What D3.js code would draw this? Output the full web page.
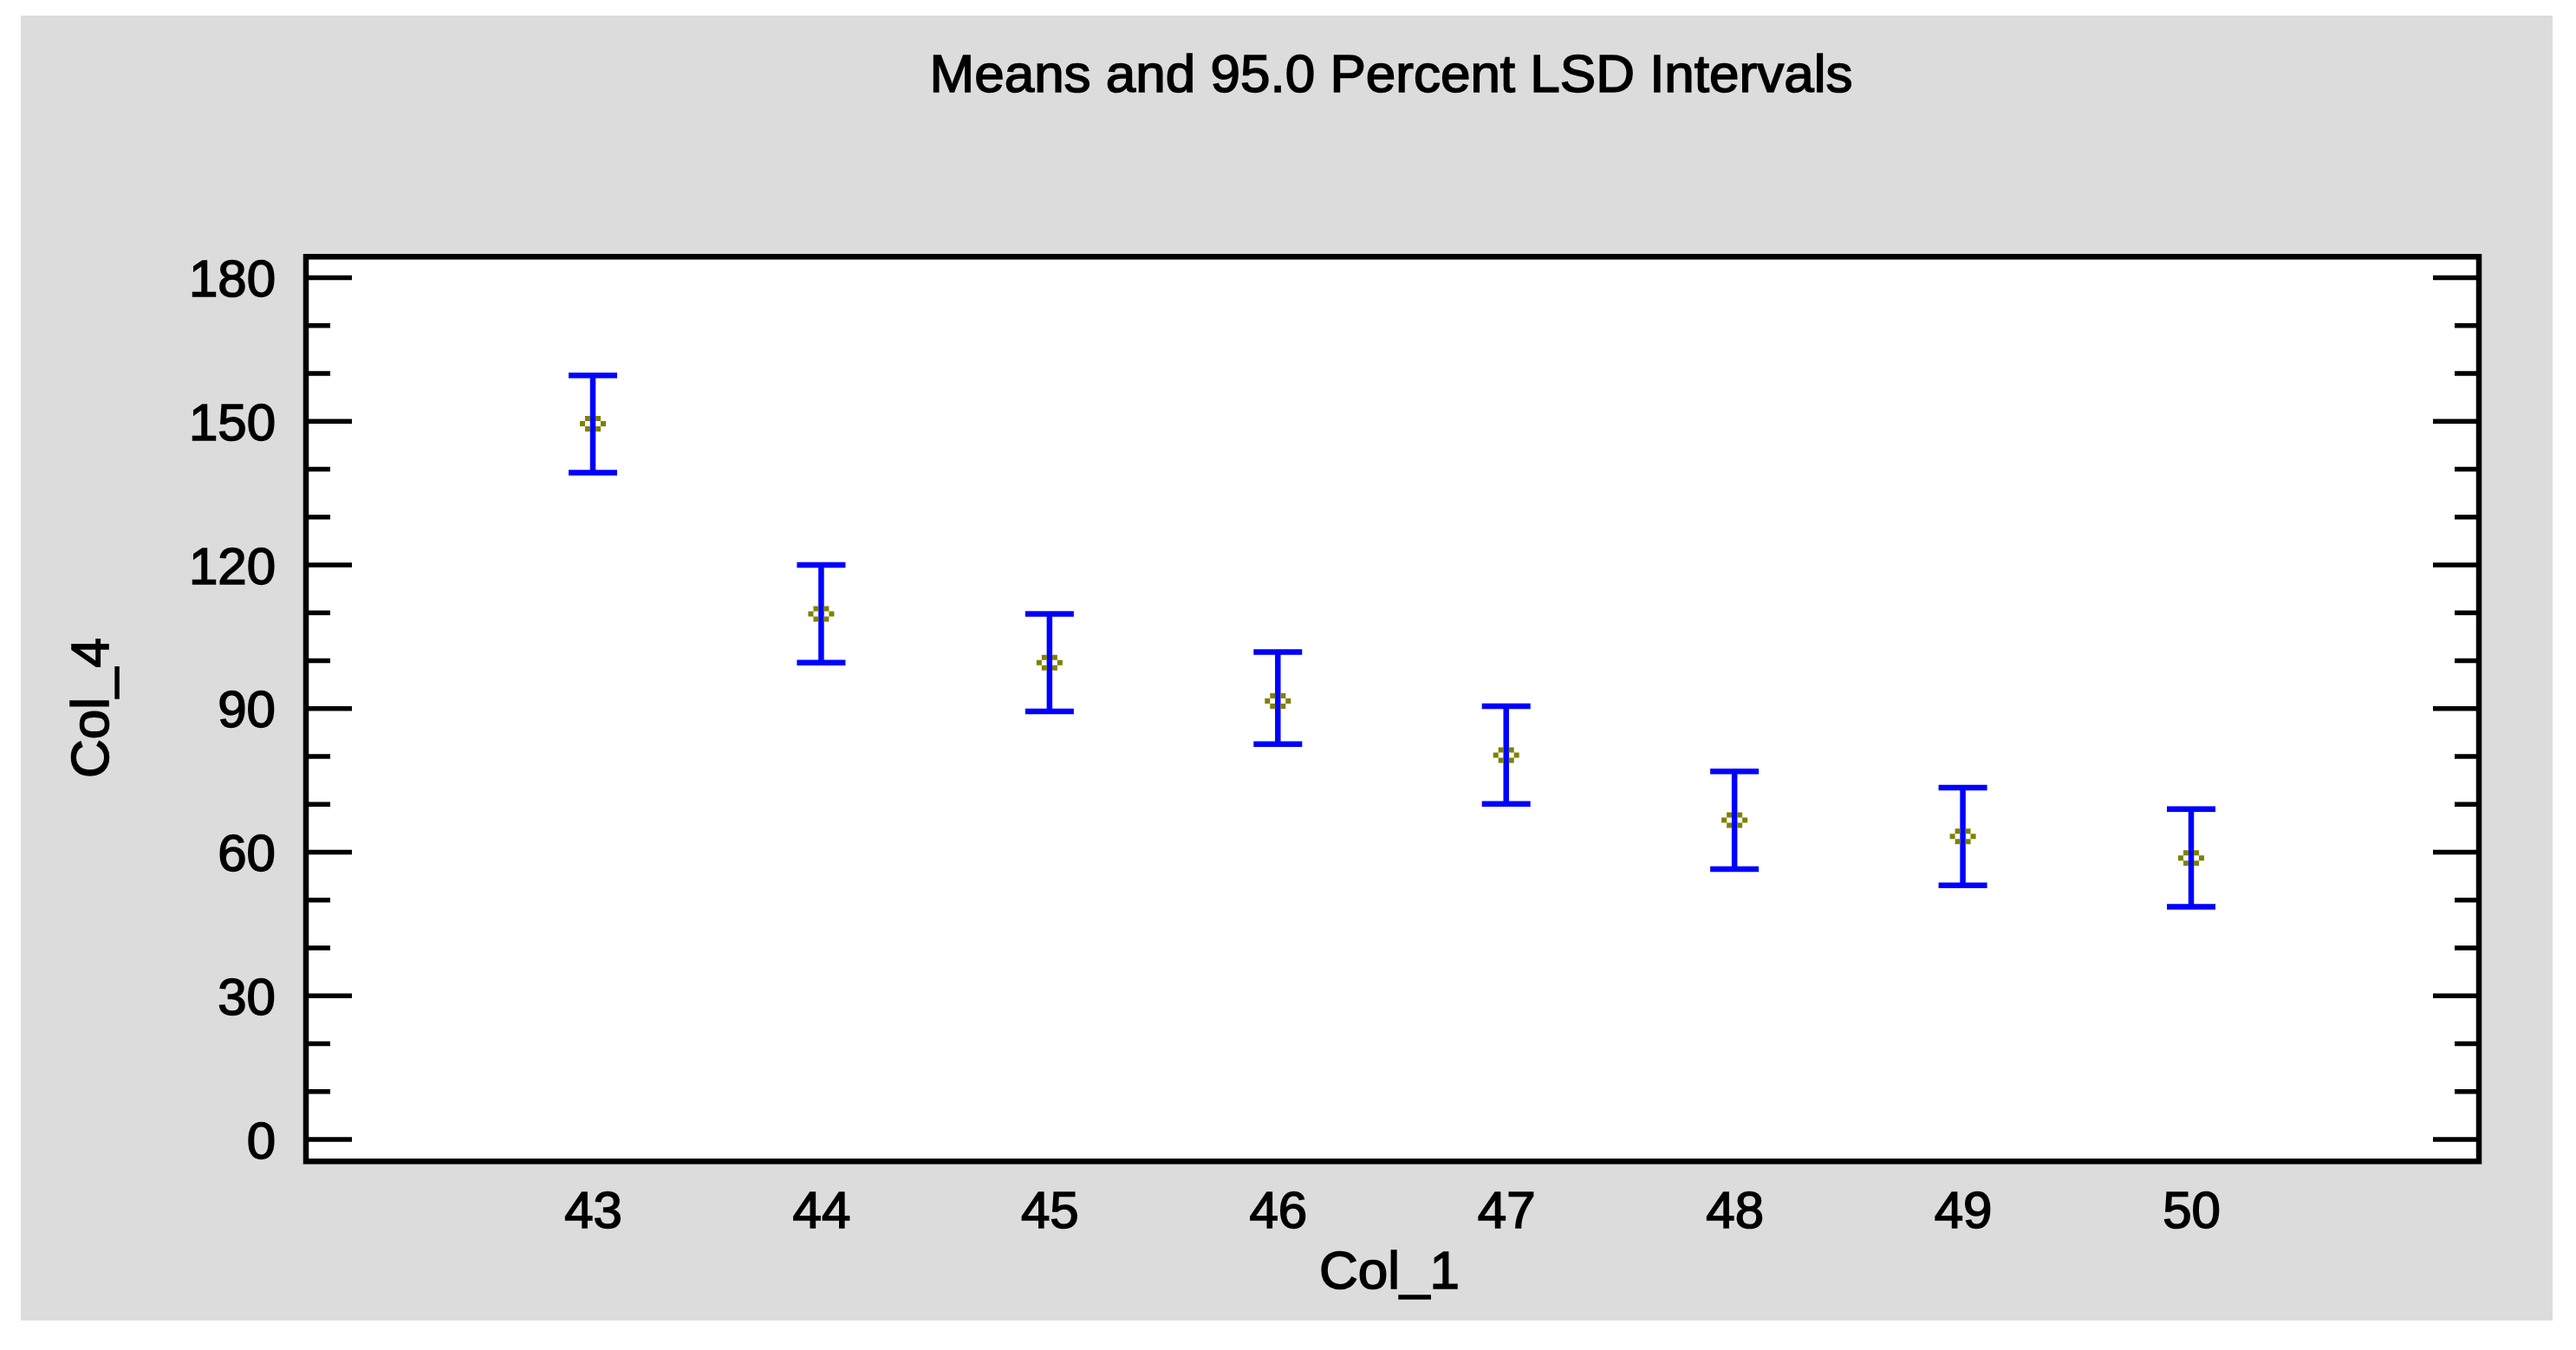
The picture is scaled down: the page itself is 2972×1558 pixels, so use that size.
<!DOCTYPE html>
<html>
<head>
<meta charset="utf-8">
<script src="https://cdn.jsdelivr.net/npm/d3@7"></script>
<style>
  html, body { margin: 0; padding: 0; background: #ffffff; }
  svg { display: block; }
  text { font-family: "Liberation Sans", Arial, sans-serif; fill: #000; stroke: #000; stroke-width: 1.6px; }
</style>
</head>
<body>
<script>
// ---- data ----
const categories = [43, 44, 45, 46, 47, 48, 49, 50];
const means      = [149.4, 109.7, 99.5, 91.5, 80.2, 66.6, 63.2, 58.7];
const lowerLSD   = [139.2, 99.5, 89.3, 82.5, 70.0, 56.4, 53.0, 48.5];
const upperLSD   = [159.5, 119.9, 109.7, 101.7, 90.4, 76.8, 73.4, 68.9];
const yMajorTicks = [0, 30, 60, 90, 120, 150, 180];
const yMinorTicks = [10, 20, 40, 50, 70, 80, 100, 110, 130, 140, 160, 170];
const titleText = "Means and 95.0 Percent LSD Intervals";
const xTitle = "Col_1";
const yTitle = "Col_4";

// ---- layout ----
const W = 2972, H = 1558;
const box = { left: 353, right: 2860, top: 296.3, bottom: 1340.3 };

const svg = d3.select("body").append("svg").attr("width", W).attr("height", H);

// gray panel
svg.append("rect").attr("x", 24).attr("y", 18).attr("width", 2945 - 24).attr("height", 1524 - 18)
  .attr("fill", "#dcdcdc");

// scales
const x = d3.scaleLinear().domain([43, 50]).range([684, 2528]);
const y = d3.scaleLinear().domain([0, 180]).range([1314.5, 320]);

// plot area
svg.append("rect").attr("x", box.left).attr("y", box.top)
  .attr("width", box.right - box.left).attr("height", box.bottom - box.top)
  .attr("fill", "#ffffff");

// axes ticks (inside)
function styleAxis(g, width) {
  g.select(".domain").remove();
  g.selectAll(".tick line").attr("stroke", "#000").attr("stroke-width", width);
}
// left minor
svg.append("g").attr("transform", `translate(${box.left},0)`)
  .call(d3.axisLeft(y).tickValues(yMinorTicks).tickSize(-28).tickFormat(""))
  .call(g => styleAxis(g, 5.5));
// left major + labels
svg.append("g").attr("transform", `translate(${box.left},0)`)
  .call(d3.axisLeft(y).tickValues(yMajorTicks).tickSize(-53).tickPadding(35).tickFormat(d3.format("d")))
  .call(g => styleAxis(g, 5.5))
  .call(g => g.selectAll("text").attr("font-size", 60).attr("fill", "#000")
    .attr("font-family", '"Liberation Sans", Arial, sans-serif').attr("dy", "0.36em"));
// right minor
svg.append("g").attr("transform", `translate(${box.right},0)`)
  .call(d3.axisRight(y).tickValues(yMinorTicks).tickSize(-28).tickFormat(""))
  .call(g => styleAxis(g, 5.5));
// right major
svg.append("g").attr("transform", `translate(${box.right},0)`)
  .call(d3.axisRight(y).tickValues(yMajorTicks).tickSize(-53).tickFormat(""))
  .call(g => styleAxis(g, 5.5));

// x labels (no tick marks)
svg.append("g").attr("transform", `translate(0,${box.bottom})`)
  .call(d3.axisBottom(x).tickValues(categories).tickSize(0).tickPadding(34).tickFormat(d3.format("d")))
  .call(g => g.select(".domain").remove())
  .call(g => g.selectAll("text").attr("font-size", 60).attr("fill", "#000")
    .attr("font-family", '"Liberation Sans", Arial, sans-serif').attr("dy", "0.71em"));

// frame
svg.append("rect").attr("x", box.left).attr("y", box.top)
  .attr("width", box.right - box.left).attr("height", box.bottom - box.top)
  .attr("fill", "none").attr("stroke", "#000").attr("stroke-width", 6.5);

// error bars
const data = categories.map((c, i) => ({ c, m: means[i], lo: lowerLSD[i], hi: upperLSD[i] }));
const bars = svg.append("g").attr("stroke", "#0000ff").attr("stroke-width", 6.5).attr("fill", "none");
bars.selectAll("line.v").data(data).join("line").attr("class", "v")
  .attr("x1", d => x(d.c)).attr("x2", d => x(d.c))
  .attr("y1", d => y(d.hi)).attr("y2", d => y(d.lo));
bars.selectAll("line.t").data(data).join("line").attr("class", "t")
  .attr("x1", d => x(d.c) - 28).attr("x2", d => x(d.c) + 28)
  .attr("y1", d => y(d.hi)).attr("y2", d => y(d.hi));
bars.selectAll("line.b").data(data).join("line").attr("class", "b")
  .attr("x1", d => x(d.c) - 28).attr("x2", d => x(d.c) + 28)
  .attr("y1", d => y(d.lo)).attr("y2", d => y(d.lo));

// mean markers: small pixel ring
const ringPath = "M-9,-9h6v6h-6z M3,-9h6v6h-6z M-15,-3h6v6h-6z M9,-3h6v6h-6z M-9,3h6v6h-6z M3,3h6v6h-6z";
svg.append("g").selectAll("path").data(data).join("path")
  .attr("transform", d => `translate(${x(d.c)},${y(d.m)})`)
  .attr("d", ringPath).attr("fill", "#808000");

// titles
svg.append("text").attr("x", 1605).attr("y", 106).attr("text-anchor", "middle")
  .attr("font-size", 62).text(titleText);
svg.append("text").attr("x", 1603).attr("y", 1487).attr("text-anchor", "middle")
  .attr("font-size", 62).text(xTitle);
svg.append("text").attr("transform", "translate(125,817) rotate(-90)").attr("text-anchor", "middle")
  .attr("font-size", 62).text(yTitle);
</script>
</body>
</html>
